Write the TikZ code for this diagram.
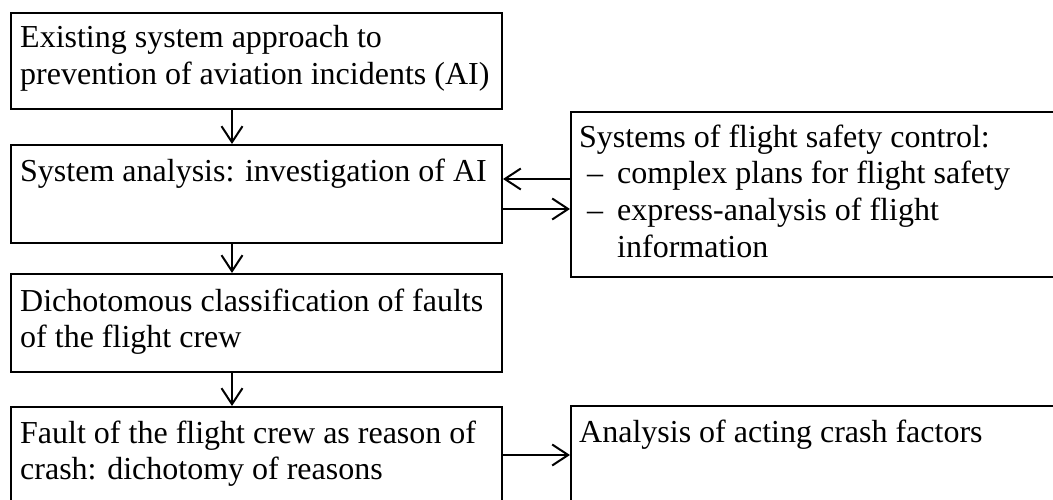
\documentclass[tikz,border=0pt]{standalone}
\usepackage{fontspec}
\setmainfont{Liberation Serif}
\usetikzlibrary{arrows.meta}
\tikzset{
  box/.style={draw, line width=2pt, rectangle, inner sep=0pt, anchor=north west},
  txt/.style={inner sep=0pt, anchor=base west, align=left,
    font=\fontsize{32}{36.8}\selectfont},
  arr/.style={line width=2pt, -{Straight Barb[length=16pt,width=21pt,line width=2pt]}},
}
\newcommand{\itm}{\hspace*{8pt}\makebox[30pt][l]{--}}
\begin{document}
\begin{tikzpicture}[x=1pt,y=-1pt]
\useasboundingbox (0,0) rectangle (1053,500);
\clip (0,0) rectangle (1053,500);

% left column
\node[box, minimum width=491pt, minimum height=96pt] (b1) at (10,12) {};
\node[box, minimum width=491pt, minimum height=98pt] (b2) at (10,144) {};
\node[box, minimum width=491pt, minimum height=98pt] (b3) at (10,273) {};
\node[box, minimum width=491pt, minimum height=120pt] (b4) at (10,406) {};

% right column
\node[box, minimum width=520pt, minimum height=165pt] (r1) at (570,111) {};
\node[box, minimum width=520pt, minimum height=120pt] (r2) at (570,405) {};

% texts (anchored at the baseline of their last line)
\node[txt] (t1) at (20,84.8) {Existing system approach to\\prevention of aviation incidents (AI)};
\node[txt] (t2) at (20,182) {System analysis: investigation of AI};
\node[txt] (t3) at (20,347.8) {Dichotomous classification of faults\\of the flight crew};
\node[txt] (t4) at (20,479.8) {Fault of the flight crew as reason of\\crash: dichotomy of reasons};
\node[txt] (t5) at (579,257.4) {Systems of flight safety control:\\
  \itm complex plans for flight safety\\
  \itm express-analysis of flight\\
  \hspace*{38pt}information};
\node[txt] (t6) at (579,442) {Analysis of acting crash factors};

% connectors
\draw[arr] ([xshift=-24.5pt]b1.south) -- ([xshift=-24.5pt]b2.north);
\draw[arr] ([xshift=-24.5pt]b2.south) -- ([xshift=-24.5pt]b3.north);
\draw[arr] ([xshift=-24.5pt]b3.south) -- ([xshift=-24.5pt]b4.north);
\draw[arr] (r1.west |- 0,179) -- (b2.east |- 0,179);
\draw[arr] (b2.east |- 0,209) -- (r1.west |- 0,209);
\draw[arr] (b4.east |- 0,455) -- (r2.west |- 0,455);
\end{tikzpicture}
\end{document}
